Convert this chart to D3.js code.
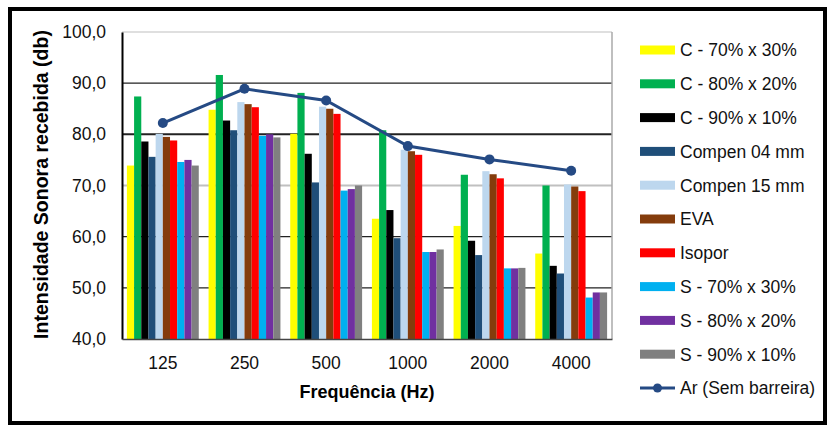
<!DOCTYPE html>
<html>
<head>
<meta charset="utf-8">
<script src="https://cdn.jsdelivr.net/npm/d3@7/dist/d3.min.js"></script>
<style>
body{margin:0;background:#fff;}
text{font-family:"Liberation Sans",Arial,sans-serif;}
</style>
</head>
<body>
<script>
var frequencies = ["125","250","500","1000","2000","4000"];
var seriesNames = ["C - 70% x 30%","C - 80% x 20%","C - 90% x 10%","Compen 04 mm","Compen 15 mm","EVA","Isopor","S - 70% x 30%","S - 80% x 20%","S - 90% x 10%"];
var seriesColors = ["#ffff00","#00b050","#000000","#1f4e79","#bdd7ee","#843c0c","#ff0000","#00b0f0","#7030a0","#808080"];

// values per series, one per frequency
var c70 = [73.9,84.8,80.1,63.5,62.1,56.7];
var c80 = [87.4,91.6,88.1,80.8,72.1,70.0];
var c90 = [78.6,82.7,76.2,65.2,59.2,54.3];
var comp04 = [75.6,80.8,70.6,59.7,56.4,52.8];
var comp15 = [80.1,86.3,85.4,77.0,72.8,70.2];
var eva = [79.5,85.9,85.0,76.7,72.2,69.8];
var isopor = [78.8,85.3,84.0,76.0,71.4,68.9];
var s70 = [74.6,79.7,69.0,57.0,53.8,48.1];
var s80 = [75.0,80.0,69.3,57.0,53.8,49.1];
var s90 = [73.9,79.4,70.0,57.5,53.9,49.1];
var arSemBarreira = [82.2,88.9,86.6,77.7,75.1,72.9];
var lineName = "Ar (Sem barreira)";

var yTicks = [40,50,60,70,80,90,100];

var seriesValues = [c70,c80,c90,comp04,comp15,eva,isopor,s70,s80,s90];

var width = 829, height = 428;
var margin = {left:122, right:217, top:32, bottom:89};
var w = width - margin.left - margin.right;
var h = height - margin.top - margin.bottom;

var svg = d3.select("body").append("svg").attr("width",width).attr("height",height);

// outer frame
svg.append("rect").attr("x",10).attr("y",9).attr("width",815).attr("height",414)
    .attr("fill","none").attr("stroke","#000").attr("stroke-width",4);

var x0 = d3.scaleBand().domain(frequencies).range([0,w]).paddingInner(0.12).paddingOuter(0.06);
var x1 = d3.scaleBand().domain(d3.range(seriesNames.length)).range([0,x0.bandwidth()]);
var y = d3.scaleLinear().domain([40,100]).range([h,0]);

var g = svg.append("g").attr("transform","translate("+margin.left+","+margin.top+")");

// gridlines
var gridColor = function(v){ return (v==70 || v==100) ? "#c0c0c0" : "#222"; };
var gridWidth = function(v){ return (v==80 || v==70) ? 2 : 1.2; };
g.selectAll(".grid").data(yTicks.filter(function(d){return d>40;})).enter().append("line")
    .attr("x1",0).attr("x2",w)
    .attr("y1",function(d){return y(d);}).attr("y2",function(d){return y(d);})
    .attr("stroke",gridColor).attr("stroke-width",gridWidth);

// plot border right
g.append("line").attr("x1",w).attr("x2",w).attr("y1",0).attr("y2",h).attr("stroke","#aaa").attr("stroke-width",1.5);

// bars
var groups = g.selectAll(".grp").data(frequencies).enter().append("g")
    .attr("transform",function(d){return "translate("+x0(d)+",0)";});
groups.selectAll("rect").data(function(d,i){
        return seriesValues.map(function(s,k){return {k:k,v:s[i]};});
    }).enter().append("rect")
    .attr("x",function(d){return x1(d.k);})
    .attr("width",x1.bandwidth())
    .attr("y",function(d){return y(d.v);})
    .attr("height",function(d){return h - y(d.v);})
    .attr("fill",function(d){return seriesColors[d.k];});

// line
var line = d3.line()
    .x(function(d,i){return x0(frequencies[i]) + x0.bandwidth()/2;})
    .y(function(d){return y(d);});
g.append("path").attr("d",line(arSemBarreira)).attr("fill","none")
    .attr("stroke","#254a84").attr("stroke-width",3);
g.selectAll(".pt").data(arSemBarreira).enter().append("circle")
    .attr("cx",function(d,i){return x0(frequencies[i]) + x0.bandwidth()/2;})
    .attr("cy",function(d){return y(d);})
    .attr("r",5).attr("fill","#254a84");

// axes
var yAxis = d3.axisLeft(y).tickValues(yTicks).tickSize(0).tickPadding(16)
    .tickFormat(function(d){return d3.format(".1f")(d).replace(".",",");});
var ya = g.append("g").call(yAxis);
ya.select(".domain").attr("stroke","#000").attr("stroke-width",2);
ya.selectAll("text").attr("font-size",17.5).attr("fill","#111")
    .style("font-family","'Liberation Sans',Arial,sans-serif");

var xAxis = d3.axisBottom(x0).tickSize(0).tickPadding(18);
var xa = g.append("g").attr("transform","translate(0,"+h+")").call(xAxis);
xa.select(".domain").attr("stroke","#444").attr("stroke-width",1.5);
xa.selectAll("text").attr("font-size",17.5).attr("fill","#111")
    .style("font-family","'Liberation Sans',Arial,sans-serif");

// axis titles
svg.append("text").attr("transform","translate(48,"+(margin.top+h/2 - 1)+") rotate(-90)")
    .attr("text-anchor","middle").attr("font-size",19.5).attr("font-weight","bold")
    .text("Intensidade Sonora recebida (db)");
svg.append("text").attr("x",margin.left + w/2).attr("y",398)
    .attr("text-anchor","middle").attr("font-size",18).attr("font-weight","bold")
    .text("Frequência (Hz)");

// legend
var legend = svg.append("g").attr("transform","translate(640,50)");
var items = legend.selectAll(".item").data(seriesNames).enter().append("g")
    .attr("transform",function(d,i){return "translate(0,"+(i*33.8)+")";});
items.append("rect").attr("x",0).attr("y",-4.5).attr("width",35).attr("height",9)
    .attr("fill",function(d,i){return seriesColors[i];});
items.append("text").attr("x",40).attr("y",6.3).attr("font-size",17.5).attr("fill","#111").text(function(d){return d;});
var li = legend.append("g").attr("transform","translate(0,"+(seriesNames.length*33.8)+")");
li.append("line").attr("x1",0).attr("x2",35).attr("y1",0).attr("y2",0).attr("stroke","#254a84").attr("stroke-width",3);
li.append("circle").attr("cx",17.5).attr("cy",0).attr("r",4.5).attr("fill","#254a84");
li.append("text").attr("x",40).attr("y",6.3).attr("font-size",17.5).attr("fill","#111").text(lineName);
</script>
</body>
</html>
